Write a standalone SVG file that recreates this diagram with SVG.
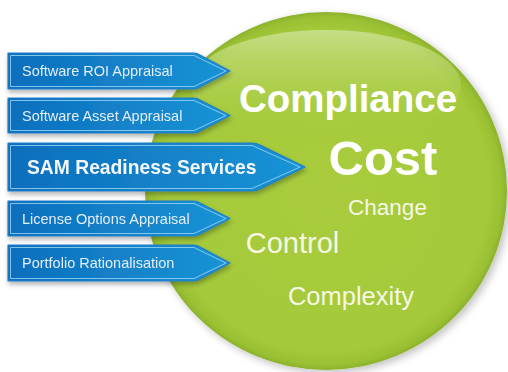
<svg xmlns="http://www.w3.org/2000/svg" width="508" height="372" viewBox="0 0 508 372">
<defs>
  <radialGradient id="ballG" cx="0.5" cy="0.5" r="0.5">
    <stop offset="0" stop-color="#a8cc3c"/>
    <stop offset="0.9" stop-color="#a4c93a"/>
    <stop offset="0.97" stop-color="#9ac033"/>
    <stop offset="1" stop-color="#8cb22c"/>
  </radialGradient>
  <linearGradient id="glossG" x1="0" y1="0" x2="0" y2="1">
    <stop offset="0" stop-color="#cfe49a" stop-opacity="0.8"/>
    <stop offset="1" stop-color="#a7cb3c" stop-opacity="0"/>
  </linearGradient>
  <linearGradient id="blueG" x1="0" y1="0" x2="1" y2="0">
    <stop offset="0" stop-color="#0c6ebd"/>
    <stop offset="1" stop-color="#1a94d5"/>
  </linearGradient>
  <filter id="ballShadow" x="-10%" y="-10%" width="125%" height="125%">
    <feGaussianBlur in="SourceAlpha" stdDeviation="4"/>
    <feOffset dx="3" dy="3" result="b"/>
    <feComponentTransfer><feFuncA type="linear" slope="0.25"/></feComponentTransfer>
    <feMerge><feMergeNode/><feMergeNode in="SourceGraphic"/></feMerge>
  </filter>
  <filter id="arrShadow" x="-5%" y="-20%" width="115%" height="160%">
    <feGaussianBlur in="SourceAlpha" stdDeviation="2.5"/>
    <feOffset dx="1" dy="3" result="b"/>
    <feComponentTransfer><feFuncA type="linear" slope="0.3"/></feComponentTransfer>
    <feMerge><feMergeNode/><feMergeNode in="SourceGraphic"/></feMerge>
  </filter>
  <style>
    .arrow { fill: url(#blueG); stroke: #1f7fc7; stroke-width: 1.2; stroke-linejoin: round; }
    .inner { fill: none; stroke: #8fcdf0; stroke-width: 1; stroke-linejoin: round; opacity: 0.9; }
    .lbl { font-family: "Liberation Sans", Arial, sans-serif; font-size: 14.5px; fill: #e4eef8; }
    .lblB { font-family: "Liberation Sans", Arial, sans-serif; font-size: 19.3px; font-weight: bold; fill: #f4f8fc; }
    .big { font-family: "Liberation Sans", Arial, sans-serif; font-weight: bold; fill: #ffffff; }
    .sm { font-family: "Liberation Sans", Arial, sans-serif; fill: #f6f8e4; }
  </style>
</defs>
<rect width="508" height="372" fill="#ffffff"/>
<g id="ball" filter="url(#ballShadow)">
  <ellipse cx="326" cy="191" rx="181" ry="179" fill="url(#ballG)"/>
  <ellipse cx="326" cy="85" rx="135" ry="55" fill="url(#glossG)"/>
</g>
<g id="ball-texts">
  <text class="big" x="348" y="112" font-size="38.5" text-anchor="middle">Compliance</text>
  <text class="big" x="383" y="175" font-size="49" text-anchor="middle">Cost</text>
  <text class="sm" x="387.5" y="215" font-size="22.5" text-anchor="middle">Change</text>
  <text class="sm" x="292.5" y="253" font-size="29" text-anchor="middle">Control</text>
  <text class="sm" x="351" y="305" font-size="25.5" text-anchor="middle">Complexity</text>
</g>
<g id="connectors"></g>
<g id="node-roi" filter="url(#arrShadow)">
  <path class="arrow" d="M8,53 H194 Q197,53 200,55 L230,71 L200,87 Q197,89 194,89 H8 Z"/>
  <path class="inner" d="M10.5,55.5 H194 L226,71 L194,86.5 H10.5 Z"/>
  <text class="lbl" x="22" y="76">Software ROI Appraisal</text>
</g>
<g id="node-asset" filter="url(#arrShadow)">
  <path class="arrow" d="M8,98 H194 Q197,98 200,100 L230,115.5 L200,131 Q197,133 194,133 H8 Z"/>
  <path class="inner" d="M10.5,100.5 H194 L226,115.5 L194,130.5 H10.5 Z"/>
  <text class="lbl" x="22" y="120.5">Software Asset Appraisal</text>
</g>
<g id="node-sam" filter="url(#arrShadow)">
  <path class="arrow" d="M8,143 H252 Q256,143 260,145 L305,167 L260,189 Q256,191 252,191 H8 Z"/>
  <path class="inner" d="M10.5,145.5 H252 L300,167 L252,188.5 H10.5 Z"/>
  <text class="lblB" x="27" y="173.5">SAM Readiness Services</text>
</g>
<g id="node-license" filter="url(#arrShadow)">
  <path class="arrow" d="M8,201 H194 Q197,201 200,203 L230,218.5 L200,234 Q197,236 194,236 H8 Z"/>
  <path class="inner" d="M10.5,203.5 H194 L226,218.5 L194,233.5 H10.5 Z"/>
  <text class="lbl" x="22" y="223.5">License Options Appraisal</text>
</g>
<g id="node-portfolio" filter="url(#arrShadow)">
  <path class="arrow" d="M8,245 H194 Q197,245 200,247 L230,263 L200,279 Q197,281 194,281 H8 Z"/>
  <path class="inner" d="M10.5,247.5 H194 L226,263 L194,278.5 H10.5 Z"/>
  <text class="lbl" x="22" y="268">Portfolio Rationalisation</text>
</g>
</svg>
